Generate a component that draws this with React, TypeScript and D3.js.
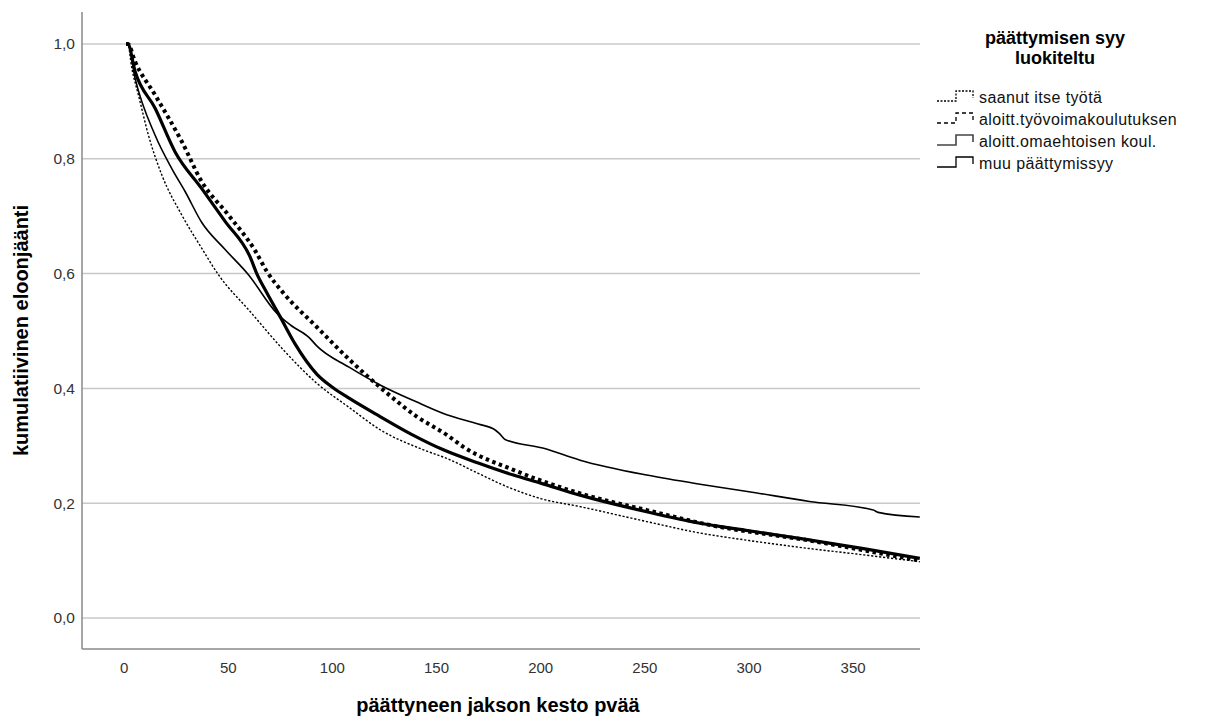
import React from "react";
import * as d3 from "d3";

const seriesNames = [
  "saanut itse työtä",
  "aloitt.työvoimakoulutuksen",
  "aloitt.omaehtoisen koul.",
  "muu päättymissyy",
];

// [time, survival]
const saanut: [number, number][] = [
  [1, 1.0], [1.8, 1.0], [3.7, 0.958], [6.9, 0.911], [11.7, 0.841], [18.1, 0.772], [27.7, 0.702],
  [37.3, 0.644], [45.3, 0.598], [60.5, 0.534], [76.5, 0.467], [92.5, 0.409], [108, 0.367],
  [122.9, 0.328], [143.7, 0.293], [154.9, 0.278], [170, 0.252], [183.7, 0.229], [200, 0.208],
  [218.9, 0.194], [250.9, 0.168], [276.5, 0.148], [300, 0.135], [329, 0.121], [355, 0.11], [382, 0.098],
];
const tyovoima: [number, number][] = [
  [1, 1.0], [1.8, 1.0], [5.3, 0.969], [14.9, 0.911], [27.7, 0.83], [37.3, 0.76], [50.1, 0.702],
  [62.9, 0.64], [68.5, 0.604], [76.5, 0.566], [92.5, 0.507], [108.5, 0.449], [124.5, 0.397],
  [140.5, 0.351], [154.9, 0.319], [162.9, 0.298], [186.9, 0.258], [218.9, 0.217], [250.9, 0.188],
  [281.3, 0.162], [329, 0.135], [355, 0.118], [382, 0.1],
];
const omaehtoinen: [number, number][] = [
  [1, 1.0], [1.8, 1.0], [5.3, 0.952], [14.9, 0.888], [24.5, 0.812], [37.3, 0.748], [48.5, 0.691],
  [60.5, 0.629], [63.7, 0.6], [68, 0.57], [74.9, 0.525], [82, 0.478], [92.5, 0.425], [100, 0.402],
  [108, 0.383], [122.9, 0.351], [138, 0.32], [153.3, 0.293], [170, 0.27], [186.9, 0.249], [200, 0.235],
  [218.9, 0.214], [250.9, 0.185], [276.5, 0.165], [300, 0.152], [329, 0.136], [355, 0.121], [382, 0.104],
];
const muu: [number, number][] = [
  [1, 1.0], [1.8, 1.0], [5.3, 0.94], [14.9, 0.841], [22.9, 0.783], [29.3, 0.743], [37.3, 0.689],
  [48.5, 0.642], [59.7, 0.598], [73.3, 0.531], [80, 0.51], [89, 0.488], [92.5, 0.474], [108, 0.437],
  [122.9, 0.406], [140, 0.377], [154.9, 0.354], [170, 0.338], [178, 0.328], [180, 0.322],
  [182.9, 0.311], [201, 0.296], [218.9, 0.275], [250.9, 0.249], [276.5, 0.233], [300, 0.22],
  [329, 0.203], [359.7, 0.188], [362, 0.184], [382, 0.176],
];

const xTicks = [0, 50, 100, 150, 200, 250, 300, 350];
const yTicks = [0, 0.2, 0.4, 0.6, 0.8, 1.0];

const styles = [
  { width: 1.4, dash: "2.2,1.8" },
  { width: 4, dash: "3.5,3.5" },
  { width: 3.2, dash: "" },
  { width: 1.6, dash: "" },
];

export default function App() {
  const left = 82, right = 920, top = 12, bottom = 649;
  const x = d3.scaleLinear().domain([-20.2, 382.1]).range([left, right]);
  const y = d3.scaleLinear().domain([-0.054, 1.0557]).range([bottom, top]);
  const line = d3
    .line<[number, number]>()
    .x((d) => x(d[0]))
    .y((d) => y(d[1]))
    .curve(d3.curveMonotoneX);
  const data = [saanut, tyovoima, omaehtoinen, muu];
  const fmt = (v: number) => v.toFixed(1).replace(".", ",");
  const font = "'Liberation Sans', Arial, sans-serif";
  const legY = [97, 119, 141, 163];

  return (
    <svg
      width={1206}
      height={722}
      style={{ position: "absolute", left: 0, top: 0, background: "#fff" }}
      fontFamily={font}
    >
      <rect width={1206} height={722} fill="#fff" />
      {yTicks.map((t) => (
        <g key={t}>
          <line x1={left} x2={right} y1={y(t)} y2={y(t)} stroke="#c8c8c8" strokeWidth={1.5} />
          <text x={75} y={y(t)} dy="0.35em" textAnchor="end" fontSize={15.5} fill="#333">
            {fmt(t)}
          </text>
        </g>
      ))}
      <line x1={left} x2={left} y1={top} y2={bottom} stroke="#888" strokeWidth={1.5} />
      <line x1={left} x2={right} y1={bottom} y2={bottom} stroke="#888" strokeWidth={1.5} />
      {xTicks.map((t) => (
        <text key={t} x={x(t)} y={673} textAnchor="middle" fontSize={15} fill="#333">
          {t}
        </text>
      ))}
      {data.map((d, i) => (
        <path
          key={i}
          d={line(d) || ""}
          fill="none"
          stroke="#000"
          strokeWidth={styles[i].width}
          strokeDasharray={styles[i].dash || undefined}
        />
      ))}
      <text
        transform={`translate(28,${(top + bottom) / 2}) rotate(-90)`}
        textAnchor="middle"
        fontSize={20}
        fontWeight="bold"
      >
        kumulatiivinen eloonjäänti
      </text>
      <text x={498} y={712} textAnchor="middle" fontSize={20} fontWeight="bold">
        päättyneen jakson kesto pvää
      </text>
      <text x={1055} y={44} textAnchor="middle" fontSize={18} fontWeight="bold">
        päättymisen syy
      </text>
      <text x={1055} y={64} textAnchor="middle" fontSize={18} fontWeight="bold">
        luokiteltu
      </text>
      {seriesNames.map((n, i) => {
        const yy = legY[i];
        const sw = i === 2 ? 1.6 : 1.3;
        const dash = i === 0 ? "2,1.5" : i === 1 ? "4,3" : undefined;
        return (
          <g key={n}>
            <path
              d={`M937,${yy + 4} L956,${yy + 4} L956,${yy - 6} L973,${yy - 6} L973,${yy + 1}`}
              fill="none"
              stroke={i === 2 ? "#444" : "#000"}
              strokeWidth={sw}
              strokeDasharray={dash}
            />
            <text x={979} y={yy} dy="0.35em" fontSize={16} letterSpacing={0.4} fill="#111">
              {n}
            </text>
          </g>
        );
      })}
    </svg>
  );
}
